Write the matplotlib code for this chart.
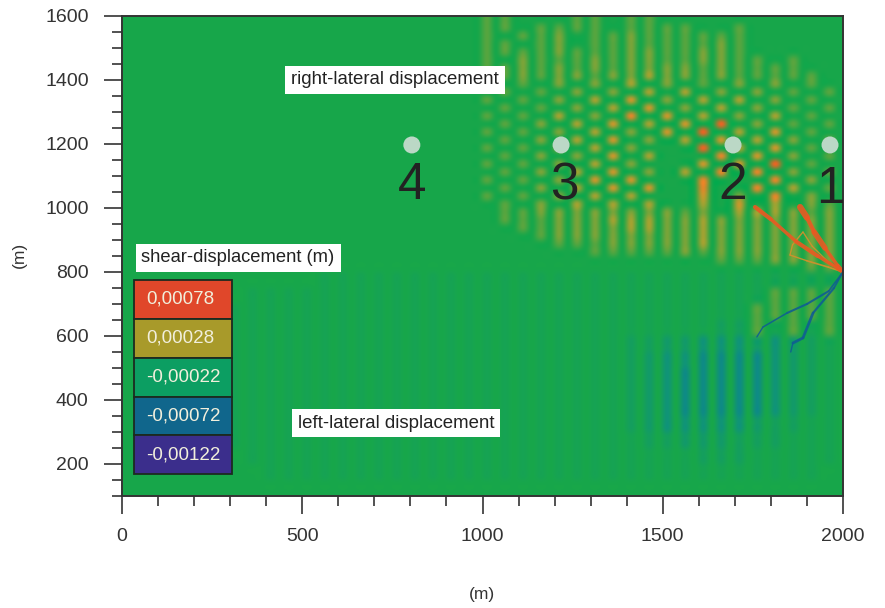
import matplotlib
matplotlib.use("Agg")
import matplotlib.pyplot as plt
import numpy as np
from matplotlib.colors import LinearSegmentedColormap, Normalize
from matplotlib.patches import Rectangle

plt.rcParams['font.family'] = ['Liberation Sans', 'DejaVu Sans']

# Level of each character used in the tables below (shear displacement, m)
LEVELS = {'0': -0.00005, '1': 0.00007, '2': 0.00014, '3': 0.00023, '4': 0.00035,
          '5': 0.00048, '6': 0.00066, '7': 0.00078,
          'a': -0.00010, 'b': -0.00015, 'c': -0.00021, 'd': -0.00029, 'e': -0.00038}

# Upper half: 20 stripes starting near x=1000, every 50 m; 25 m rows from 1600 to 800
upper_rows = [
    "11000110110000000000",
    "11011110111100100000",
    "10112011211111100000",
    "11012011211112100000",
    "11112111221122100000",
    "10211121221122110100",
    "11212121222212111100",
    "11212212232212111110",
    "10102020302010202010",
    "01010202030302020101",
    "10102030402030302010",
    "01010203040203020101",
    "10103020504030203010",
    "01020304030406020101",
    "10102030204060304010",
    "01020304020304030201",
    "10102030200060304010",
    "01020204030005040201",
    "10102030200040406010",
    "01020304020305050201",
    "10102040400050005020",
    "01020304040050050301",
    "10102030300040205020",
    "01020303030030403021",
    "01122222222120333212",
    "01112223332232222222",
    "00112222332232222222",
    "00012222222232222222",
    "00001112222232222222",
    "00000011111212222222",
    "00000000000001112222",
    "00000000000000000011",
]

# Lower half: 35 stripes starting near x=250, every 50 m; 50 m rows from 800 to 100
lower_rows = [
    "000000aaaaaaaaaaaaaaaaaaaaaaaaaaaaa",
    "00aaaaaaaaaaaaaaaaaaaaaaaaaaaaa1111",
    "0aaaaaaaaaaaaaaaaaaaaaaaaaaaaa11111",
    "0aaaaaaaaaaaaaaaaaaaaaaaaaaabb1a1a1",
    "0aaaaaaaaaaaaaaaaaaaaaabbccdddcdcba",
    "0aaaaaaaaaaaaaaaaaaaaaabcddeeeedcba",
    "0aaaaaaaaaaaaaaaaaaaaaabcdeeeeedcba",
    "0aaaaaaaaaaaaaaaaaaaaaabcdeeeeedcba",
    "0aaaaaaaaaaaaaaaaaaaaaabcdeeeeedcba",
    "0aaaaaaaaaaaaaaaaaaaaaabcdddddcbbaa",
    "0aaaaaaaaaaaaaaaaaaaaaaabbcccbbbaaa",
    "00aaaaaaaaaaaaaaaaaaaaaaaaabbbaaaaa",
    "000aaaaaaaaaaaaaaaaaaaaaaaaaaaaaaa0",
    "00000000000000000000000000000000000",
]

# Rays from the source point: (x, y, width in points) along each ray
source_x, source_y = 2000, 800
red_ray_a = [(1985, 812, 3.0), (1930, 850, 2.5), (1870, 895, 3.0), (1800, 965, 2.5), (1756, 1003, 3.0)]
red_ray_b = [(1985, 820, 3.0), (1950, 875, 2.5), (1920, 925, 4.0), (1900, 970, 3.0), (1881, 1003, 4.5)]
orange_ray_c = [(1960, 815, 1.2), (1900, 835, 1.2), (1853, 853, 1.0), (1860, 885, 1.0), (1889, 925, 1.0)]
orange_ray_d = [(1960, 830, 1.0), (1915, 880, 1.0), (1889, 925, 1.0)]
blue_ray_a = [(1960, 740, 1.2), (1900, 700, 1.5), (1845, 672, 1.5), (1778, 628, 1.1), (1761, 597, 1.0)]
blue_ray_b = [(1975, 750, 1.2), (1917, 672, 1.6), (1889, 594, 2.0), (1861, 578, 2.0), (1855, 550, 1.0)]

x_major = [0, 500, 1000, 1500, 2000]
y_major = [200, 400, 600, 800, 1000, 1200, 1400, 1600]

legend_values = ['0,00078', '0,00028', '-0,00022', '-0,00072', '-0,00122']
legend_colors = ['#E0472A', '#A89A2A', '#0C9E62', '#10668C', '#3B2E8C']

point_labels = ['4', '3', '2', '1']
point_x = [804, 1218, 1695, 1964]
point_y = [1197, 1197, 1197, 1197]

stops = [(-0.00122, '#3B2E8C'), (-0.00072, '#0F5F92'), (-0.00035, '#0E8F84'),
         (-0.00005, '#18A74A'), (0.00012, '#6DA53C'), (0.00028, '#B8A12E'),
         (0.00050, '#E2862A'), (0.00078, '#EC4E20')]
norm = Normalize(-0.00122, 0.00078)
cmap = LinearSegmentedColormap.from_list('shear', [(norm(v), c) for v, c in stops])

field = np.full((60, 80), LEVELS['0'])
for r, row in enumerate(upper_rows):
    for c, ch in enumerate(row):
        field[r, 40 + 2 * c] = LEVELS[ch]
for r, row in enumerate(lower_rows):
    for c, ch in enumerate(row):
        field[32 + 2 * r:34 + 2 * r, 10 + 2 * c] = LEVELS[ch]

fig = plt.figure(figsize=(8.85, 6.08), dpi=100, facecolor='white')
ax = fig.add_axes([122 / 885, 1 - 496 / 608, 721 / 885, 480 / 608])
ax.imshow(field, extent=[0, 2000, 100, 1600], origin='upper', aspect='auto',
          cmap=cmap, norm=norm, interpolation='catrom', interpolation_stage='rgba', zorder=1)

for ray, value in [(orange_ray_c, 0.00042), (orange_ray_d, 0.00042), (red_ray_a, 0.00072),
                   (red_ray_b, 0.00072), (blue_ray_a, -0.00072), (blue_ray_b, -0.00072)]:
    px = [source_x] + [p[0] for p in ray]
    py = [source_y] + [p[1] for p in ray]
    w = [ray[0][2]] + [p[2] for p in ray]
    for i in range(len(px) - 1):
        ax.plot(px[i:i + 2], py[i:i + 2], color=cmap(norm(value)), lw=w[i + 1],
                solid_capstyle='round', alpha=0.9, zorder=2)

ax.scatter(point_x, point_y, s=150, color='#BBD8C6', edgecolor='none', zorder=3)
digit_x = [804, 1228, 1695, 1964]
digit_y = [1070, 1070, 1070, 1058]
for lab, x, y in zip(point_labels, digit_x, digit_y):
    ax.text(x, y, lab, fontsize=37, color='#222222', ha='center', va='center', zorder=4)

box = dict(boxstyle='square,pad=0.32', fc='white', ec='none')
ax.text(757, 1400, 'right-lateral displacement', fontsize=13.4, color='#222222',
        ha='center', va='center', bbox=box, zorder=5)
ax.text(760, 328, 'left-lateral displacement', fontsize=13.4, color='#222222',
        ha='center', va='center', bbox=box, zorder=5)
ax.text(322, 844, 'shear-displacement (m)', fontsize=13.2, color='#222222',
        ha='center', va='center', bbox=box, zorder=5)

y_top, y_step = 775, 121.4
for i, (val, col) in enumerate(zip(legend_values, legend_colors)):
    ax.add_patch(Rectangle((32, y_top - (i + 1) * y_step), 272, y_step, fc=col,
                           ec='#1c2a20', lw=1.3, zorder=5))
    ax.text(67, y_top - (i + 0.5) * y_step, val, fontsize=13.5, color='#F1EFDC',
            ha='left', va='center', zorder=6)

ax.set_xlim(0, 2000)
ax.set_ylim(100, 1600)
ax.set_xticks(x_major)
ax.set_yticks(y_major)
ax.set_xticks([v for v in range(0, 2001, 100) if v not in x_major], minor=True)
ax.set_yticks([v for v in range(100, 1601, 50) if v not in y_major], minor=True)
ax.tick_params(which='major', length=13, width=1.2, color='#333333', labelsize=14,
               labelcolor='#333333')
ax.tick_params(which='minor', length=7, width=1.2, color='#333333')
ax.tick_params(axis='y', which='major', pad=11)
ax.tick_params(axis='x', which='major', pad=10)
for s in ax.spines.values():
    s.set_color('#333333')
    s.set_linewidth(1.4)
fig.text(482 / 885, 1 - 594 / 608, '(m)', fontsize=12.5, color='#333333', ha='center', va='center')
fig.text(19 / 885, 1 - 255 / 608, '(m)', fontsize=12.5, color='#333333', ha='center', va='center',
         rotation=90)
fig.savefig('out.png', dpi=100)
